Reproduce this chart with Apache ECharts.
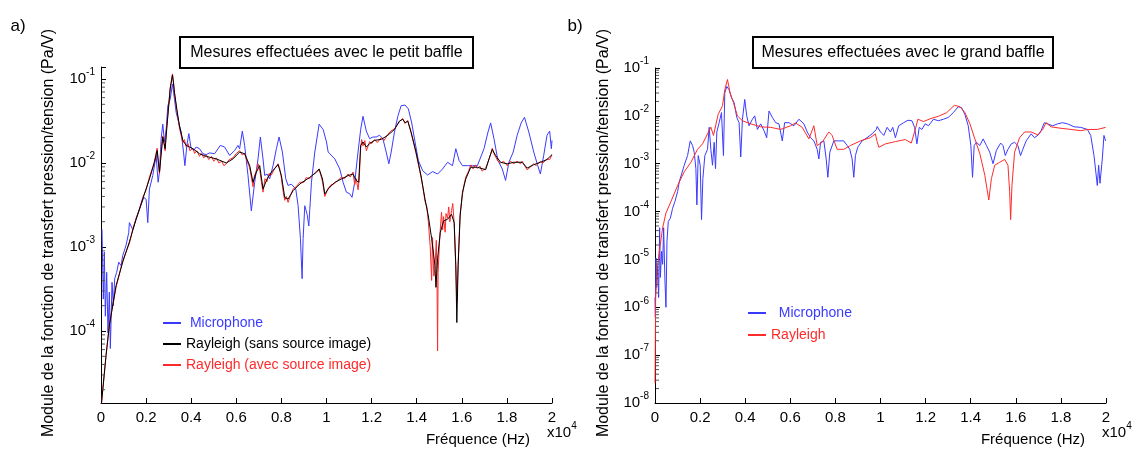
<!DOCTYPE html>
<html><head><meta charset="utf-8">
<script src="https://cdn.jsdelivr.net/npm/echarts@6/dist/echarts.min.js"></script>
<style>html,body{margin:0;padding:0;background:#fff}#c{width:1137px;height:450px}</style>
</head><body><div id="c"></div>
<script>
// ---------- Panel a) petit baffle ----------
var aMicF = [44,74,104,148,193,252,311,370,415,489,548,607,696,785,889,963,1111,1229,1259,1407,1556,1704,1896,2000,2074,2148,2296,2444,2533,2593,2667,2741,2815,2889,2963,3067,3170,3259,3333,3452,3556,3659,3719,3807,3896,3985,4104,4222,4370,4519,4667,4815,5037,5289,5481,5704,5926,6074,6148,6267,6370,6519,6667,6815,6963,7067,7185,7259,7363,7481,7630,7778,7896,8044,8193,8296,8444,8637,8741,8844,8919,8963,9037,9141,9215,9259,9333,9481,9674,9852,10000,10074,10368,10588,10735,10882,11029,11132,11250,11397,11515,11618,11765,11912,12059,12206,12353,12500,12647,12765,12868,13015,13162,13309,13485,13632,13779,13926,14074,14265,14485,14706,14926,15147,15368,15588,15735,15882,16029,16250,16471,16691,16985,17162,17279,17426,17603,17794,17941,18088,18279,18456,18632,18779,18971,19191,19368,19485,19632,19779,19897,19971,20000];
var aMicV = [1.62e-3,6.0e-4,2.4e-4,8.7e-4,1.5e-4,5.0e-4,9.5e-5,2.9e-4,6.2e-5,3.8e-4,2.0e-4,4.2e-4,5.0e-4,6.6e-4,6.0e-4,7.9e-4,1.05e-3,1.48e-3,1.95e-3,1.62e-3,2.14e-3,2.8e-3,3.9e-3,3.7e-3,1.95e-3,4.9e-3,7.1e-3,1.23e-2,5.9e-3,7.8e-3,1.95e-2,2.9e-2,1.78e-2,2.5e-2,4.8e-2,5.75e-2,8.7e-2,5.75e-2,4.0e-2,3.0e-2,2.34e-2,1.35e-2,9.3e-3,1.62e-2,2.24e-2,1.55e-2,1.41e-2,1.55e-2,1.48e-2,1.29e-2,1.26e-2,1.32e-2,1.29e-2,1.62e-2,1.55e-2,1.23e-2,1.41e-2,1.62e-2,1.48e-2,2.4e-2,1.62e-2,7.1e-3,2.7e-3,5.9e-3,1.12e-2,2.04e-2,1.12e-2,7.1e-3,7.4e-3,6.5e-3,9.3e-3,1.48e-2,2.04e-2,1.35e-2,6.5e-3,5.4e-3,5.6e-3,4.9e-3,3.1e-3,1.26e-3,4.2e-4,1.26e-3,3.1e-3,2.45e-3,1.78e-3,2.8e-3,5.9e-3,1.35e-2,2.9e-2,2.5e-2,1.78e-2,1.35e-2,1.12e-2,8.5e-3,5.9e-3,4.5e-3,4.3e-3,3.9e-3,5.9e-3,1.35e-2,2.5e-2,3.6e-2,2.4e-2,1.95e-2,2.04e-2,2.04e-2,2.14e-2,1.95e-2,1.35e-2,9.8e-3,1.35e-2,2.34e-2,3.6e-2,4.8e-2,4.9e-2,4.4e-2,3.0e-2,1.78e-2,1.07e-2,8.1e-3,7.2e-3,7.9e-3,7.4e-3,8.5e-3,1.02e-2,9.3e-3,1.48e-2,1.07e-2,9.3e-3,9.3e-3,9.3e-3,9.3e-3,1.48e-2,2.34e-2,3.0e-2,1.95e-2,1.07e-2,8.5e-3,6.2e-3,1.02e-2,1.35e-2,2.14e-2,3.0e-2,3.5e-2,2.34e-2,1.35e-2,9.3e-3,7.4e-3,1.23e-2,2.14e-2,2.4e-2,1.48e-2,1.86e-2];

var aSansF = [0,222,370,667,963,1259,1556,1852,2148,2370,2489,2593,2740,2844,2963,3067,3170,3259,3363,3481,3630,3778,4074,4370,4667,5111,5556,5852,6148,6370,6593,6741,6889,7037,7185,7363,7556,7852,8000,8148,8296,8519,8815,9259,9556,9674,9822,9926,10074,10368,10662,10956,11176,11324,11426,11515,11618,11765,11912,12132,12426,12721,13015,13235,13382,13485,13603,13750,13971,14191,14368,14515,14662,14809,14853,14926,15044,15191,15368,15544,15662,15735,15779,15838,15926,16029,16176,16397,16691,17059,17206,17353,17500,17721,18015,18309,18676,18897,19191,19485,19779,20000];
var aSansV = [1.2e-5,5.1e-5,1.15e-4,3.47e-4,6.6e-4,1.15e-3,2.14e-3,3.72e-3,6.46e-3,1.02e-2,1.41e-2,7.76e-3,2.04e-2,1.48e-2,3.63e-2,7.59e-2,0.112,6.92e-2,4.37e-2,2.75e-2,1.86e-2,1.62e-2,1.48e-2,1.29e-2,1.2e-2,1.12e-2,1.0e-2,1.12e-2,1.35e-2,1.29e-2,9.33e-3,5.89e-3,7.76e-3,9.33e-3,4.9e-3,6.46e-3,7.76e-3,9.55e-3,7.08e-3,3.89e-3,3.72e-3,4.68e-3,5.62e-3,6.76e-3,7.76e-3,8.51e-3,6.46e-3,4.27e-3,4.9e-3,5.89e-3,6.46e-3,7.08e-3,7.41e-3,6.17e-3,5.89e-3,1.62e-2,1.78e-2,1.55e-2,1.7e-2,1.86e-2,1.91e-2,2.14e-2,2.51e-2,3.16e-2,3.31e-2,3.02e-2,3.16e-2,2.34e-2,1.35e-2,7.08e-3,3.72e-3,2.34e-3,1.26e-3,6.03e-4,3.31e-4,7.24e-4,1.48e-3,2.04e-3,2.14e-3,2.45e-3,1.95e-3,6.03e-4,1.26e-4,6.03e-4,2.34e-3,4.47e-3,6.46e-3,8.91e-3,8.91e-3,8.32e-3,1.12e-2,1.45e-2,1.23e-2,1.02e-2,9.77e-3,1.02e-2,1.02e-2,8.71e-3,9.55e-3,1.02e-2,1.1e-2,1.26e-2];

var aAvecF = [0,222,370,500,667,820,963,1100,1259,1400,1556,1700,1852,2000,2148,2300,2370,2489,2560,2593,2660,2740,2800,2844,2900,2963,3067,3170,3220,3259,3363,3481,3560,3630,3700,3778,3860,3940,4074,4150,4250,4370,4450,4560,4667,4780,4900,5000,5111,5230,5350,5450,5556,5680,5852,6000,6148,6260,6370,6480,6593,6680,6741,6800,6889,6960,7037,7110,7185,7270,7363,7450,7556,7700,7852,7930,8000,8080,8148,8220,8296,8400,8519,8650,8815,9000,9100,9259,9400,9556,9674,9760,9822,9926,10074,10200,10368,10500,10662,10800,10956,11050,11176,11250,11324,11400,11450,11515,11560,11618,11700,11765,11850,11912,12000,12132,12250,12426,12550,12721,12850,13015,13120,13235,13382,13485,13603,13750,13850,13971,14080,14191,14280,14368,14450,14515,14600,14662,14700,14760,14809,14870,14905,14926,14950,15000,15044,15100,15150,15191,15260,15300,15368,15420,15470,15544,15600,15662,15735,15779,15838,15926,16029,16100,16176,16300,16397,16500,16600,16691,16800,16900,17059,17206,17353,17420,17500,17600,17721,17850,18015,18150,18309,18450,18600,18676,18800,18897,19050,19191,19300,19485,19600,19779,19900,20000];
var aAvecV = [1.2e-5,5.0e-5,1.2e-4,1.9e-4,3.3e-4,4.8e-4,6.9e-4,8.6e-4,1.1e-3,1.6e-3,2.2e-3,2.8e-3,3.9e-3,4.8e-3,6.8e-3,9.0e-3,1.05e-2,1.5e-2,9.0e-3,7.4e-3,1.3e-2,2.1e-2,1.7e-2,1.4e-2,2.5e-2,3.7e-2,7.8e-2,0.115,9.0e-2,6.7e-2,4.2e-2,2.6e-2,2.1e-2,1.75e-2,1.9e-2,1.55e-2,1.7e-2,1.4e-2,1.5e-2,1.3e-2,1.4e-2,1.2e-2,1.3e-2,1.15e-2,1.25e-2,1.1e-2,1.2e-2,1.05e-2,1.15e-2,1.0e-2,1.05e-2,9.3e-3,9.8e-3,1.1e-2,1.15e-2,1.3e-2,1.4e-2,1.25e-2,1.3e-2,1.05e-2,8.8e-3,6.5e-3,5.2e-3,7.0e-3,8.0e-3,9.8e-3,8.5e-3,6.0e-3,4.5e-3,6.5e-3,6.0e-3,7.5e-3,7.2e-3,8.6e-3,9.8e-3,8.5e-3,6.6e-3,4.5e-3,3.6e-3,4.0e-3,3.4e-3,4.1e-3,4.9e-3,5.2e-3,5.9e-3,5.9e-3,6.7e-3,6.5e-3,7.2e-3,8.0e-3,8.3e-3,7.0e-3,6.0e-3,4.0e-3,5.0e-3,5.5e-3,5.7e-3,6.2e-3,6.8e-3,6.5e-3,7.4e-3,6.8e-3,7.8e-3,5.5e-3,6.5e-3,4.8e-3,6.3e-3,1.5e-2,1.9e-2,1.6e-2,1.85e-2,1.4e-2,1.6e-2,1.8e-2,1.7e-2,1.9e-2,1.75e-2,2.0e-2,1.85e-2,2.2e-2,2.4e-2,2.55e-2,2.8e-2,3.1e-2,3.4e-2,2.95e-2,3.2e-2,2.3e-2,1.8e-2,1.3e-2,9.5e-3,6.8e-3,5.0e-3,3.5e-3,3.0e-3,2.0e-3,1.0e-3,4.0e-4,1.3e-3,4.5e-4,5.5e-4,1.2e-3,3.0e-4,5.8e-5,5.0e-4,1.0e-3,1.6e-3,2.6e-3,1.6e-3,2.3e-3,1.5e-3,2.5e-3,2.2e-3,3.0e-3,2.0e-3,2.7e-3,3.3e-3,1.9e-3,5.5e-4,2.2e-4,6.5e-4,2.5e-3,4.2e-3,5.5e-3,6.8e-3,8.0e-3,9.5e-3,8.5e-3,9.5e-3,8.6e-3,9.2e-3,8.0e-3,8.7e-3,1.1e-2,1.5e-2,1.3e-2,1.25e-2,1.05e-2,1.0e-2,1.05e-2,9.3e-3,1.05e-2,9.8e-3,1.05e-2,9.8e-3,1.05e-2,9.2e-3,8.3e-3,9.0e-3,9.8e-3,9.3e-3,1.05e-2,1.0e-2,1.12e-2,1.1e-2,1.25e-2];

// ---------- Panel b) grand baffle ----------
var bMicF = [0,15,44,74,118,162,206,236,295,339,383,442,486,531,590,678,781,884,1002,1076,1150,1297,1445,1562,1666,1739,1813,1857,1916,2005,2064,2123,2211,2329,2402,2476,2550,2624,2683,2742,2845,2948,3036,3095,3184,3287,3390,3508,3626,3729,3803,3877,3980,4068,4171,4319,4422,4540,4687,4835,4953,5056,5203,5351,5498,5645,5749,5940,6161,6382,6604,6751,6898,7046,7193,7267,7341,7488,7591,7665,7753,7930,8151,8372,8520,8638,8741,8815,8888,8991,9183,9404,9625,9817,9853,10000,10147,10294,10440,10543,10661,10807,11028,11218,11395,11512,11615,11718,11835,11982,12129,12349,12569,12789,13009,13230,13450,13597,13743,13890,14008,14081,14154,14257,14404,14551,14698,14844,14991,15138,15329,15432,15534,15652,15799,15945,16092,16210,16312,16459,16680,16826,17002,17120,17267,17413,17634,17854,18074,18294,18588,18881,19175,19322,19468,19615,19674,19733,19836,19909,19982];
var bMicV = [1.6e-6,6.2e-7,1.07e-5,2.6e-6,6.8e-6,1.6e-6,4.6e-5,4.2e-6,1.48e-5,7.9e-6,4.6e-5,3.5e-6,1.0e-6,2.4e-5,6.2e-5,7.2e-5,1.17e-4,1.62e-4,2.6e-4,4.2e-4,4.2e-4,9.3e-4,1.48e-3,3.0e-3,2.4e-3,1.74e-3,7.9e-4,1.38e-4,1.48e-3,9.3e-4,6.8e-5,4.9e-4,1.48e-3,2.0e-3,5.75e-3,2.0e-3,9.3e-4,2.8e-3,7.9e-4,4.6e-3,7.2e-3,1.17e-2,1.48e-3,3.0e-2,4.1e-2,3.5e-2,2.4e-2,1.9e-2,9.3e-3,7.2e-3,1.38e-3,8.5e-3,2.2e-2,1.0e-2,6.2e-3,8.5e-3,1.0e-2,5.2e-3,6.8e-3,4.9e-3,3.5e-3,1.26e-2,9.3e-3,7.2e-3,6.8e-3,3.0e-3,7.2e-3,7.2e-3,6.2e-3,8.5e-3,6.8e-3,4.6e-3,3.5e-3,3.0e-3,2.0e-3,1.26e-3,2.8e-3,3.0e-3,1.26e-3,5.2e-4,1.74e-3,3.0e-3,3.0e-3,3.0e-3,2.4e-3,2.0e-3,1.26e-3,5.2e-4,1.48e-3,2.2e-3,3.0e-3,3.5e-3,4.2e-3,5.2e-3,6.0e-3,4.6e-3,3.9e-3,5.75e-3,4.6e-3,5.75e-3,3.5e-3,6.2e-3,7.2e-3,8.1e-3,7.9e-3,5.75e-3,2.6e-3,5.75e-3,5.2e-3,6.8e-3,6.2e-3,8.5e-3,7.9e-3,8.5e-3,9.3e-3,1.17e-2,1.55e-2,1.48e-2,1.07e-2,6.2e-3,2.4e-3,5.2e-4,2.4e-3,2.8e-3,2.4e-3,3.3e-3,2.4e-3,1.74e-3,1.0e-3,1.9e-3,2.7e-3,2.4e-3,1.48e-3,2.0e-3,2.6e-3,2.8e-3,2.4e-3,1.48e-3,2.0e-3,3.0e-3,4.2e-3,3.5e-3,4.0e-3,4.9e-3,7.2e-3,6.8e-3,6.2e-3,6.8e-3,7.2e-3,6.8e-3,5.9e-3,5.75e-3,5.2e-3,3.9e-3,1.48e-3,3.5e-4,9.3e-4,3.9e-4,1.26e-3,3.9e-3,3.0e-3];

var bRayF = [0,29,88,192,339,486,707,1002,1297,1592,1887,2108,2329,2476,2594,2800,2992,3095,3213,3331,3478,3655,3876,4245,4687,5129,5571,6013,6234,6529,6824,7045,7192,7413,7708,7856,8077,8372,8667,9109,9551,9772,9850,9927,10220,10661,11101,11366,11542,11659,11909,12203,12570,12937,13275,13524,13744,13965,14185,14405,14626,14802,14919,15066,15286,15507,15653,15727,15771,15830,15947,16167,16388,16681,16975,17195,17342,17562,18003,18443,18884,19178,19618,19985];
var bRayV = [2.6e-8,1.6e-6,5.8e-6,1.48e-5,4.6e-5,9.3e-5,1.62e-4,3.5e-4,6.8e-4,1.07e-3,2.0e-3,2.6e-3,4.2e-3,5.8e-3,3.9e-3,1.07e-2,1.62e-2,3.5e-2,5.75e-2,3.0e-2,1.9e-2,1.0e-2,7.9e-3,6.8e-3,5.9e-3,5.75e-3,5.2e-3,6.2e-3,7.1e-3,5.75e-3,3.3e-3,6.2e-3,2.4e-3,2.8e-3,4.6e-3,3.9e-3,2.0e-3,2.0e-3,2.4e-3,3.0e-3,3.5e-3,4.2e-3,2.9e-3,2.2e-3,2.6e-3,2.9e-3,3.2e-3,2.7e-3,5.2e-3,8.5e-3,7.6e-3,8.7e-3,9.8e-3,1.17e-2,1.66e-2,1.55e-2,1.17e-2,6.8e-3,3.3e-3,1.62e-3,5.75e-4,1.74e-4,4.9e-4,9.3e-4,1.07e-3,1.23e-3,9.3e-4,2.6e-4,6.8e-5,3.5e-4,1.74e-3,3.5e-3,4.6e-3,4.6e-3,4.0e-3,5.2e-3,7.2e-3,5.9e-3,5.5e-3,5.2e-3,4.9e-3,5.2e-3,5.2e-3,5.75e-3];

// tick labels and log minor-tick positions
var xTicks = ['0','0.2','0.4','0.6','0.8','1','1.2','1.4','1.6','1.8','2'];
var minorMant = [2,3,4,5,6,7,8,9];
var aDecades = [1e-5,1e-4,1e-3,1e-2,1e-1];
var bDecades = [1e-8,1e-7,1e-6,1e-5,1e-4,1e-3,1e-2];

var FONT = "'Liberation Sans', Arial, sans-serif";
function zip(f, v) { return f.map(function (x, i) { return [x, v[i]]; }); }
function minorData(dec, mn, mx) {
  var out = [];
  dec.forEach(function (d) { minorMant.forEach(function (m) { var v = m * d; if (v > mn && v < mx) out.push([0, v]); }); });
  return out;
}
function powLabel(v) {
  var l = Math.log10(v), e = Math.round(l);
  if (Math.abs(l - e) > 1e-6) return '';
  return '{b|10}{s|' + e + '}';
}
var richY = { b: { fontSize: 15, fontFamily: FONT, color: '#000' }, s: { fontSize: 10, fontFamily: FONT, color: '#000', padding: [0, 0, 13, 0] } };
function xAxis(g) {
  return { type: 'value', gridIndex: g, min: 0, max: 20000, interval: 2000,
    axisLine: { lineStyle: { color: '#000', width: 1 } },
    axisTick: { inside: true, length: 5, lineStyle: { color: '#000' } },
    splitLine: { show: false },
    axisLabel: { color: '#000', fontSize: 15, fontFamily: FONT, margin: 7,
      formatter: function (v) { return xTicks[Math.round(v / 2000)]; } } };
}
function yAxis(g, mn, mx) {
  return { type: 'log', gridIndex: g, min: mn, max: mx, logBase: 10,
    axisLine: { show: true, lineStyle: { color: '#000', width: 1 } },
    axisTick: { show: true, inside: true, length: 5, lineStyle: { color: '#000' } },
    minorTick: { show: false },
    splitLine: { show: false },
    axisLabel: { margin: 6, formatter: powLabel, rich: richY } };
}
function line(name, g, data, color, z) {
  return { name: name, type: 'line', xAxisIndex: g, yAxisIndex: g, data: data, showSymbol: false,
    symbol: 'none', z: z, lineStyle: { color: color, width: 1 }, itemStyle: { color: color }, clip: true };
}
function minorTicks(g, data) {
  return { type: 'custom', xAxisIndex: g, yAxisIndex: g, data: data, z: 5, silent: true,
    renderItem: function (params, api) {
      var p = api.coord([api.value(0), api.value(1)]);
      return { type: 'line', shape: { x1: p[0] + 1, y1: p[1], x2: p[0] + 4, y2: p[1] }, style: { stroke: '#555', lineWidth: 1 } };
    } };
}
function label(t, x, y, size) {
  return { type: 'text', x: x, y: y, style: { text: t, fill: '#000', font: size + 'px ' + FONT, textAlign: 'center', textVerticalAlign: 'middle' } };
}
function box(t, x, y, w, h) {
  return { type: 'group', children: [
    { type: 'rect', shape: { x: x, y: y, width: w, height: h }, style: { fill: '#fff', stroke: '#000', lineWidth: 2 } },
    { type: 'text', x: x + w / 2, y: y + h / 2, style: { text: t, fill: '#000', font: '16px ' + FONT, textAlign: 'center', textVerticalAlign: 'middle' } } ] };
}
function ylab(x, y) {
  return { type: 'text', x: x, y: y, rotation: Math.PI / 2,
    style: { text: 'Module de la fonction de transfert pression/tension (Pa/V)', fill: '#000', font: '16px ' + FONT, textAlign: 'center', textVerticalAlign: 'middle' } };
}
function x104(x, y) {
  return { type: 'text', x: x, y: y, style: { text: '{a|x10}{s|4}', textVerticalAlign: 'middle',
    rich: { a: { fontSize: 15, fontFamily: FONT, color: '#000' }, s: { fontSize: 10, fontFamily: FONT, color: '#000', padding: [0, 0, 13, 0] } } } };
}

var chart = echarts.init(document.getElementById('c'), null, { renderer: 'canvas' });
chart.setOption({
  animation: false,
  backgroundColor: '#fff',
  grid: [
    { left: 101, top: 67, width: 451, height: 336 },
    { left: 655, top: 68, width: 451, height: 335 }
  ],
  xAxis: [xAxis(0), xAxis(1)],
  yAxis: [yAxis(0, 1.39e-5, 0.139), yAxis(1, 1e-8, 1e-1)],
  legend: [
    { left: 158, top: 311, orient: 'vertical', itemWidth: 18, itemHeight: 2, itemGap: 7, icon: 'rect',
      textStyle: { fontSize: 14, fontFamily: FONT },
      data: [
        { name: ' Microphone', textStyle: { color: '#3a3aff' } },
        { name: 'Rayleigh (sans source image)', textStyle: { color: '#000' } },
        { name: 'Rayleigh (avec source image)', textStyle: { color: '#ff2a2a' } } ] },
    { left: 743, top: 301, orient: 'vertical', itemWidth: 18, itemHeight: 2, itemGap: 8, icon: 'rect',
      textStyle: { fontSize: 14, fontFamily: FONT },
      data: [
        { name: '  Microphone', textStyle: { color: '#3a3aff' } },
        { name: 'Rayleigh', textStyle: { color: '#ff2a2a' } } ] }
  ],
  graphic: [
    label('a)', 18, 26, 17), label('b)', 575, 26, 17),
    box('Mesures effectuées avec le petit baffle', 180, 37, 293, 31),
    box('Mesures effectuées avec le grand baffle', 753, 37, 300, 31),
    ylab(49, 233), ylab(604, 233),
    label('Fréquence (Hz)', 478, 440, 15), label('Fréquence (Hz)', 1033, 440, 15),
    x104(547, 433), x104(1102, 433)
  ],
  series: [
    line(' Microphone', 0, zip(aMicF, aMicV), '#3a3aff', 2),
    line('Rayleigh (avec source image)', 0, zip(aAvecF, aAvecV), '#ff2a2a', 3),
    line('Rayleigh (sans source image)', 0, zip(aSansF, aSansV), '#000', 4),
    line('  Microphone', 1, zip(bMicF, bMicV), '#3a3aff', 2),
    line('Rayleigh', 1, zip(bRayF, bRayV), '#ff2a2a', 3),
    minorTicks(0, minorData(aDecades, 1.39e-5, 0.139)),
    minorTicks(1, minorData(bDecades, 1e-8, 1e-1))
  ]
});
</script></body></html>
